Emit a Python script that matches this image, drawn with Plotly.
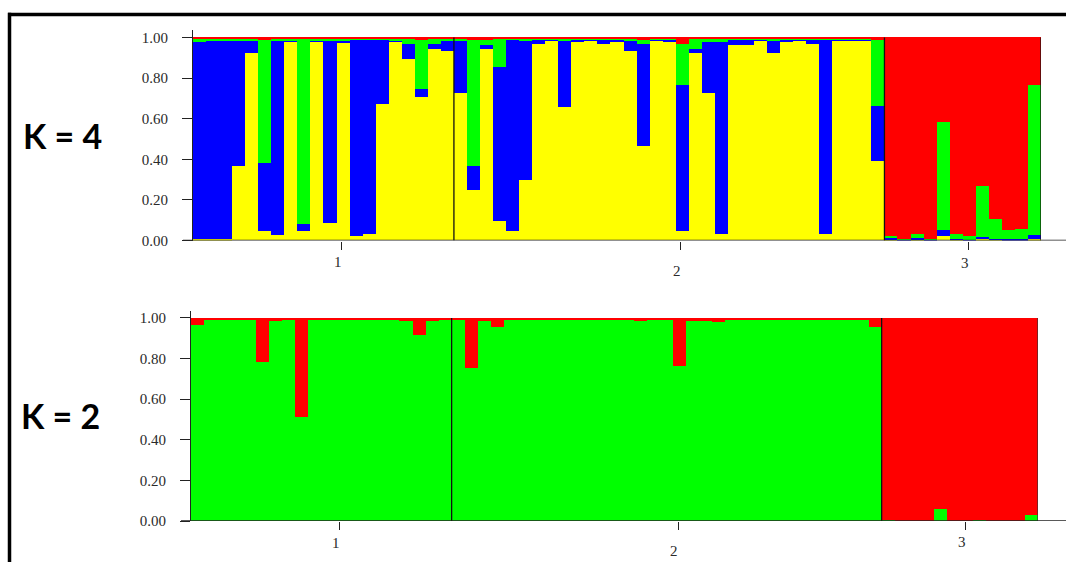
import plotly.graph_objects as go

# Population sizes (individuals per sampled population)
pop_sizes = [20, 33, 12]
pop_labels = ["1", "2", "3"]
pop_tick_pos = [11.4, 37.4, 59.45]

# ---- K = 4 membership coefficients (per individual) ----
k4_yellow = [
    0.005, 0.005, 0.005, 0.367, 0.921, 0.046, 0.026, 0.980, 0.046, 0.980,
    0.086, 0.975, 0.020, 0.030, 0.671, 0.975, 0.890, 0.707, 0.939, 0.934,
    0.724, 0.247, 0.939, 0.095, 0.046, 0.296, 0.967, 0.984, 0.658, 0.979,
    0.984, 0.967, 0.979, 0.934, 0.462, 0.984, 0.980, 0.046, 0.921, 0.724,
    0.030, 0.962, 0.962, 0.984, 0.923, 0.979, 0.984, 0.967, 0.030, 0.984,
    0.984, 0.984, 0.391,
    0.003, 0.000, 0.002, 0.000, 0.020, 0.002, 0.000, 0.005, 0.002, 0.000,
    0.000, 0.005,
]
k4_blue = [
    0.973, 0.980, 0.980, 0.612, 0.062, 0.332, 0.958, 0.004, 0.033, 0.004,
    0.897, 0.009, 0.966, 0.956, 0.315, 0.010, 0.077, 0.038, 0.028, 0.050,
    0.260, 0.120, 0.020, 0.760, 0.941, 0.687, 0.020, 0.003, 0.327, 0.008,
    0.003, 0.020, 0.008, 0.051, 0.505, 0.003, 0.007, 0.719, 0.021, 0.251,
    0.945, 0.025, 0.025, 0.003, 0.057, 0.008, 0.003, 0.020, 0.957, 0.003,
    0.003, 0.003, 0.272,
    0.005, 0.005, 0.006, 0.005, 0.030, 0.005, 0.003, 0.012, 0.003, 0.005,
    0.005, 0.018,
]
k4_green = [
    0.012, 0.005, 0.005, 0.011, 0.007, 0.609, 0.006, 0.006, 0.911, 0.006,
    0.007, 0.006, 0.004, 0.004, 0.004, 0.005, 0.023, 0.242, 0.023, 0.006,
    0.006, 0.620, 0.028, 0.135, 0.003, 0.007, 0.003, 0.003, 0.005, 0.003,
    0.003, 0.003, 0.003, 0.005, 0.020, 0.003, 0.003, 0.202, 0.048, 0.015,
    0.015, 0.003, 0.003, 0.003, 0.010, 0.003, 0.003, 0.003, 0.003, 0.003,
    0.003, 0.003, 0.324,
    0.012, 0.002, 0.020, 0.002, 0.534, 0.021, 0.015, 0.249, 0.100, 0.045,
    0.051, 0.742,
]
k4_red = [round(1 - a - b - c, 3) for a, b, c in zip(k4_yellow, k4_blue, k4_green)]

# ---- K = 2 membership coefficients ----
k2_green = [
    0.964, 0.992, 0.992, 0.992, 0.992, 0.783, 0.984, 0.992, 0.512, 0.992,
    0.992, 0.992, 0.992, 0.992, 0.992, 0.992, 0.984, 0.918, 0.986, 0.992,
    0.990, 0.753, 0.984, 0.956, 0.992, 0.992, 0.992, 0.992, 0.992, 0.992,
    0.992, 0.992, 0.992, 0.992, 0.988, 0.992, 0.992, 0.766, 0.984, 0.987,
    0.979, 0.992, 0.992, 0.992, 0.992, 0.992, 0.992, 0.992, 0.992, 0.992,
    0.992, 0.992, 0.956,
    0.004, 0.000, 0.000, 0.000, 0.059, 0.000, 0.000, 0.005, 0.000, 0.000,
    0.000, 0.030,
]
k2_red = [round(1 - g, 3) for g in k2_green]

n_ind = sum(pop_sizes)
xs = [i + 0.5 for i in range(n_ind)]
bounds = [sum(pop_sizes[:i + 1]) for i in range(len(pop_sizes))]

W, H = 1066, 562


def px_x(p):
    return p / W


def px_y(p):
    return 1 - p / H


YTOP = 1.035
# panel placement in pixels
top_x0, top_x1, top_y0, top_y1 = 193, 1041, 240.5, 240.5 - 203 * YTOP
bot_x0, bot_x1, bot_y0, bot_y1 = 191, 1038, 521, 521 - 203 * YTOP

fig = go.Figure()

bar_common = dict(width=1.0, marker_line_width=0, hoverinfo="skip", showlegend=False)
for vals, col in [(k4_yellow, "#FFFF00"), (k4_blue, "#0000FF"),
                  (k4_green, "#00FF00"), (k4_red, "#FF0000")]:
    fig.add_trace(go.Bar(x=xs, y=vals, marker_color=col, xaxis="x", yaxis="y", **bar_common))
for vals, col in [(k2_green, "#00FF00"), (k2_red, "#FF0000")]:
    fig.add_trace(go.Bar(x=xs, y=vals, marker_color=col, xaxis="x2", yaxis="y2", **bar_common))

axis_font = dict(family="Liberation Serif, Times New Roman, serif", size=15, color="#2a2a2a")

xcommon = dict(range=[0, n_ind], showgrid=False, zeroline=False, showline=False,
               ticks="outside", ticklen=8, tickwidth=1.2, tickcolor="#222",
               tickvals=pop_tick_pos, showticklabels=False, fixedrange=True,
               automargin=False)
ycommon = dict(range=[0, YTOP], showgrid=False, zeroline=False, showline=True,
               linecolor="#222", linewidth=1.2, ticks="outside", ticklen=10,
               tickwidth=1.2, tickcolor="#222", tickvals=[0, 0.2, 0.4, 0.6, 0.8, 1.0],
               tickformat=".2f", tickfont=axis_font, ticklabelstandoff=11,
               fixedrange=True, automargin=False)

fig.update_layout(
    width=W, height=H, margin=dict(l=0, r=0, t=0, b=0, pad=0, autoexpand=False),
    autosize=False,
    paper_bgcolor="white", plot_bgcolor="white",
    barmode="stack", bargap=0,
    xaxis=dict(domain=[px_x(top_x0), px_x(top_x1)], anchor="y", **xcommon),
    yaxis=dict(domain=[px_y(top_y0), px_y(top_y1)], anchor="x", **ycommon),
    xaxis2=dict(domain=[px_x(bot_x0), px_x(bot_x1)], anchor="y2", **xcommon),
    yaxis2=dict(domain=[px_y(bot_y0), px_y(bot_y1)], anchor="x2", **ycommon),
)

shapes = []
# population separators and right edge
for xr, yr, edge_col in [("x", "y", "#111"), ("x2", "y2", "#333")]:
    for b in bounds:
        shapes.append(dict(type="line", xref=xr, yref=yr, x0=b, x1=b, y0=0, y1=1,
                           line=dict(color="#111" if b != n_ind else edge_col, width=1.3)))
# baselines running to the right edge
shapes.append(dict(type="line", xref="paper", yref="y", x0=px_x(183), x1=1, y0=0, y1=0,
                   line=dict(color="#222", width=1.3)))
shapes.append(dict(type="line", xref="paper", yref="y2", x0=px_x(181), x1=1, y0=0, y1=0,
                   line=dict(color="#222", width=1.3)))
# outer frame (top and left)
shapes.append(dict(type="line", xref="paper", yref="paper", x0=px_x(8), x1=1,
                   y0=px_y(14.5), y1=px_y(14.5), line=dict(color="black", width=3.5)))
shapes.append(dict(type="line", xref="paper", yref="paper", x0=px_x(9.5), x1=px_x(9.5),
                   y0=0, y1=px_y(12.8), line=dict(color="black", width=3.5)))
fig.update_layout(shapes=shapes)

ann = []
# staggered population labels
label_rows = [("x", [262, 271, 263]), ("x2", [543, 551, 542])]
for xr, ys in label_rows:
    for lab, pos, yy in zip(pop_labels, pop_tick_pos, ys):
        ann.append(dict(text=lab, x=pos, xref=xr, y=px_y(yy), yref="paper", xshift=-4,
                        showarrow=False, xanchor="center", yanchor="middle", font=axis_font))
# K labels
kfont = dict(family="Lato, Open Sans, sans-serif", size=34, color="black")
ann.append(dict(text="<b>K = 4</b>", x=px_x(62), y=px_y(135), xref="paper", yref="paper",
                showarrow=False, xanchor="center", yanchor="middle", font=kfont))
ann.append(dict(text="<b>K = 2</b>", x=px_x(60), y=px_y(415), xref="paper", yref="paper",
                showarrow=False, xanchor="center", yanchor="middle", font=kfont))
fig.update_layout(annotations=ann)

fig.write_html("out.html")
